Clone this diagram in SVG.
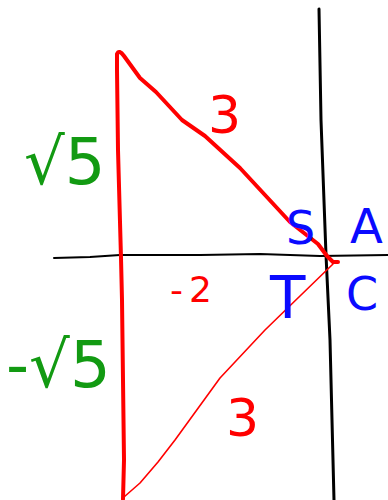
<svg xmlns="http://www.w3.org/2000/svg" width="388" height="500" viewBox="0 0 388 500">
<style>
.ax{fill:none;stroke:#000;stroke-linecap:round;stroke-linejoin:round}
.tri{fill:none;stroke:#ff0000;stroke-linecap:round;stroke-linejoin:round}
.g{fill:#129a12;font-family:"DejaVu Sans",sans-serif}
.r{fill:#ff0000;font-family:"DejaVu Sans",sans-serif}
.b{fill:#0a0aff;font-family:"DejaVu Sans",sans-serif}
</style>
<rect width="388" height="500" fill="#fff"/>
<g id="connectors">
<path class="ax" stroke-width="3" d="M319,9 L321,120 L326,255 L330,340 L334,500"/>
<path class="ax" stroke-width="2" d="M54,258 L90,257 L120,255 L200,255 L260,254 L320,256 L388,255"/>
<path class="tri" stroke-width="4" d="M123,499 L124,460 L123,380 L122,300 L121,258 L118,150 L117,70 L117,54 Q119,49 124,56 L140,78 L156,92 L182,120 L205,136 L240,168 L290,222 L318,244 L327,256 L333,262 L338,262"/>
<path class="tri" stroke-width="1.6" d="M333,264 L300,296 L265,330 L220,378 L175,440 L158,462 L140,483 L124,497"/>
</g>
<g id="label-sqrt5"><text class="g" x="24" y="184" font-size="64">√5</text></g>
<g id="label-neg-sqrt5"><text class="g" x="6" y="387" font-size="64">-√5</text></g>
<g id="label-3-top"><text class="r" x="208" y="133" font-size="52">3</text></g>
<g id="label-3-bottom"><text class="r" x="226" y="436" font-size="52">3</text></g>
<g id="label-neg2"><text class="r" x="170" y="302" font-size="36"><tspan>-</tspan><tspan dx="6">2</tspan></text></g>
<g id="label-S"><text class="b" x="286" y="244" font-size="46">S</text></g>
<g id="label-A"><text class="b" x="350" y="243" font-size="48">A</text></g>
<g id="label-T"><text class="b" x="270" y="318" font-size="58">T</text></g>
<g id="label-C"><text class="b" x="346" y="310" font-size="46">C</text></g>
</svg>
